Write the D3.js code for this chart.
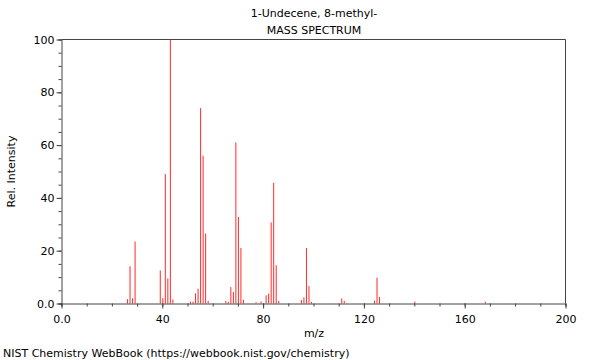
<!DOCTYPE html>
<html>
<head>
<meta charset="utf-8">
<script src="https://cdn.jsdelivr.net/npm/d3@7"></script>
<style>
  html, body { margin: 0; padding: 0; background: #fff; }
  svg { display: block; }
  text { font-family: "DejaVu Sans", sans-serif; fill: #000; }
</style>
</head>
<body>
<svg id="chart" width="600" height="360"></svg>
<script>
// m/z values and relative intensities
const mz = [26, 27, 28, 29, 39, 40, 41, 42, 43, 44, 51, 52, 53, 54, 55, 56, 57, 58,
            65, 66, 67, 68, 69, 70, 71, 72, 77, 79, 81, 82, 83, 84, 85, 86,
            95, 96, 97, 98, 99, 111, 112, 124, 125, 126, 140, 168];
const intensity = [1.6, 14.1, 2.0, 23.5, 12.5, 2.0, 49.0, 9.5, 100, 1.5, 0.7, 0.7, 3.8, 5.6, 74.0, 56.0, 26.5, 1.0,
                   1.0, 0.6, 6.2, 4.4, 61.0, 32.8, 21.0, 1.4, 0.5, 0.8, 3.1, 3.7, 30.7, 45.7, 14.5, 1.0,
                   1.3, 2.3, 21.0, 6.6, 0.6, 1.9, 1.0, 1.1, 9.8, 2.5, 0.7, 0.7];
const xTickLabels = [0, 40, 80, 120, 160, 200];
const yTickLabels = [0, 20, 40, 60, 80, 100];
const titleLines = ["1-Undecene, 8-methyl-", "MASS SPECTRUM"];
const xTitle = "m/z";
const yTitle = "Rel. Intensity";
const credit = "NIST Chemistry WebBook (https://webbook.nist.gov/chemistry)";

const peaks = mz.map((m, i) => ({ m, v: intensity[i] }));

const svg = d3.select("#chart");
const x = d3.scaleLinear().domain([0, 200]).range([62, 566]);
const y = d3.scaleLinear().domain([0, 100]).range([303.5, 39.5]);

const fmt = d => d === 0 ? "0.0" : String(d);

// frame (top and right)
svg.append("path")
  .attr("d", `M${x(0) - 0.5},${y(100)}H${x(200) - 0.5}V${y(0)}`)
  .attr("fill", "none").attr("stroke", "#444").attr("stroke-width", 1);

// peaks
svg.append("g").selectAll("line").data(peaks).join("line")
  .attr("x1", d => x(d.m)).attr("x2", d => x(d.m))
  .attr("y1", y(0)).attr("y2", d => y(d.v))
  .attr("stroke", "#ff2a2a").attr("stroke-width", 1);

// x axis: minor ticks every 10, labels every 40
const xAxisMinor = d3.axisBottom(x).tickValues(d3.range(0, 201, 10)).tickSize(3).tickFormat("");
const xAxisMajor = d3.axisBottom(x).tickValues(xTickLabels).tickSize(5).tickFormat(fmt).tickPadding(7);
const gx1 = svg.append("g").attr("transform", `translate(-0.5,${y(0)})`).call(xAxisMinor);
const gx2 = svg.append("g").attr("transform", `translate(-0.5,${y(0)})`).call(xAxisMajor);
[gx1, gx2].forEach(g => {
  g.selectAll("path").attr("stroke", "#444");
  g.selectAll("line").attr("stroke", "#444");
});
gx2.select(".domain").remove();
gx2.selectAll("text").attr("font-size", 11).attr("font-family", "DejaVu Sans, sans-serif").attr("fill", "#000");

// y axis: minor ticks every 5, labels every 20
const yAxisMinor = d3.axisLeft(y).tickValues(d3.range(0, 101, 5)).tickSize(3).tickFormat("");
const yAxisMajor = d3.axisLeft(y).tickValues(yTickLabels).tickSize(5).tickFormat(fmt).tickPadding(2);
const gy1 = svg.append("g").attr("transform", `translate(${x(0) - 0.5},0)`).call(yAxisMinor);
const gy2 = svg.append("g").attr("transform", `translate(${x(0) - 0.5},0)`).call(yAxisMajor);
[gy1, gy2].forEach(g => {
  g.selectAll("path").attr("stroke", "#444");
  g.selectAll("line").attr("stroke", "#444");
});
gy2.select(".domain").remove();
gy2.selectAll("text").attr("font-size", 11).attr("font-family", "DejaVu Sans, sans-serif").attr("fill", "#000");

// titles
svg.append("g").selectAll("text").data(titleLines).join("text")
  .attr("x", 314).attr("y", (d, i) => 17 + i * 17)
  .attr("text-anchor", "middle").attr("font-size", 11).text(d => d);

svg.append("text").attr("x", 314).attr("y", 337)
  .attr("text-anchor", "middle").attr("font-size", 11).text(xTitle);

svg.append("text").attr("transform", `translate(15,${(y(0) + y(100)) / 2}) rotate(-90)`)
  .attr("text-anchor", "middle").attr("font-size", 11).text(yTitle);

svg.append("text").attr("x", 3).attr("y", 357)
  .attr("font-size", 11).text(credit);
</script>
</body>
</html>
